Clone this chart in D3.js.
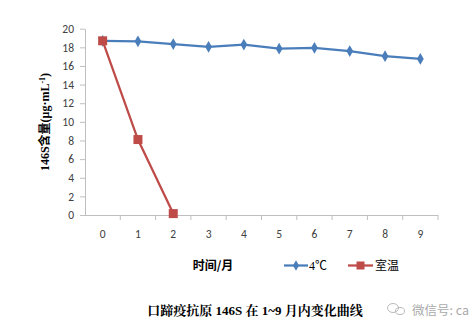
<!DOCTYPE html>
<html>
<head>
<meta charset="utf-8">
<script src="https://cdn.jsdelivr.net/npm/d3@7"></script>
<style>
  html, body { margin: 0; padding: 0; background: #fff; }
  svg { display: block; }
</style>
</head>
<body>
<svg id="chart" width="472" height="325"></svg>
<script>
// Months on the x axis
const months = ["0", "1", "2", "3", "4", "5", "6", "7", "8", "9"];
// 146S content (μg·mL-1) stored at 4℃
const cold = [18.7, 18.65, 18.35, 18.05, 18.3, 17.85, 17.95, 17.6, 17.05, 16.75];
// 146S content (μg·mL-1) at room temperature (measured months 0–2)
const room = [18.7, 8.1, 0.15];
// y tick values
const yTicks = [0, 2, 4, 6, 8, 10, 12, 14, 16, 18, 20];

const svg = d3.select("#chart");
const plotLeft = 85, plotRight = 438, plotTop = 28.7, plotBottom = 215;

const x = d3.scaleBand().domain(months).range([plotLeft, plotRight]).paddingInner(0).paddingOuter(0);
const y = d3.scaleLinear().domain([0, 20]).range([plotBottom, plotTop]);

const axisColor = "#bfbfbf";
const labelFont = "Calibri, Carlito, 'Liberation Sans', 'Open Sans', sans-serif";

// y axis
const yAxis = svg.append("g")
  .attr("transform", `translate(${plotLeft},0)`)
  .call(d3.axisLeft(y).tickValues(yTicks).tickSize(5).tickPadding(6).tickSizeOuter(0));
yAxis.select(".domain").attr("stroke", axisColor);
yAxis.selectAll(".tick line").attr("stroke", axisColor);
yAxis.selectAll(".tick text")
  .attr("fill", "#404040").style("font-size", "11.5px").style("font-family", labelFont);

// x axis: ticks sit on category boundaries
const xAxis = svg.append("g")
  .attr("transform", `translate(0,${plotBottom})`);
xAxis.append("line")
  .attr("x1", plotLeft).attr("x2", plotRight).attr("y1", 0.5).attr("y2", 0.5)
  .attr("stroke", axisColor);
const boundaries = months.map(m => x(m)).concat([x(months[months.length - 1]) + x.bandwidth()]);
xAxis.selectAll("line.tk").data(boundaries.slice(1)).join("line")
  .attr("class", "tk")
  .attr("x1", d => d).attr("x2", d => d).attr("y1", 0).attr("y2", 5)
  .attr("stroke", axisColor);
xAxis.selectAll("text").data(months).join("text")
  .attr("x", d => x(d) + x.bandwidth() / 2)
  .attr("y", 23)
  .attr("text-anchor", "middle")
  .attr("fill", "#404040")
  .style("font-size", "11.5px")
  .style("font-family", labelFont)
  .text(d => d);

const cx = (d, i) => x(months[i]) + x.bandwidth() / 2;

// 4℃ series
const blue = "#4a7ebb";
const line = d3.line().x((d, i) => cx(d, i)).y(d => y(d));
svg.append("path").datum(cold)
  .attr("fill", "none").attr("stroke", blue).attr("stroke-width", 2.25)
  .attr("d", line);
svg.selectAll("path.dia").data(cold).join("path")
  .attr("class", "dia")
  .attr("d", d3.symbol(d3.symbolDiamond, 40))
  .attr("transform", (d, i) => `translate(${cx(d, i)},${y(d)})`)
  .attr("fill", blue);

// room temperature series
const red = "#be4b48";
svg.append("path").datum(room)
  .attr("fill", "none").attr("stroke", red).attr("stroke-width", 2.25)
  .attr("d", line);
svg.selectAll("rect.sq").data(room).join("rect")
  .attr("class", "sq")
  .attr("x", (d, i) => cx(d, i) - 4.5)
  .attr("y", d => y(d) - 4.5)
  .attr("width", 9).attr("height", 9)
  .attr("fill", red);

// y axis title
const yTitle = svg.append("text")
  .attr("transform", "translate(49,122) rotate(-90)")
  .attr("text-anchor", "middle")
  .style("font-family", "'Liberation Serif', 'Noto Sans CJK SC', serif")
  .style("font-weight", "bold")
  .style("font-size", "12px")
  .attr("fill", "#000");
yTitle.append("tspan").text("146S含量(μg·mL");
yTitle.append("tspan").attr("dy", -4).style("font-size", "8px").text("-1");
yTitle.append("tspan").attr("dy", 4).text(")");

// x axis title
svg.append("text")
  .attr("x", 213).attr("y", 270)
  .attr("text-anchor", "middle")
  .style("font-family", "'Noto Sans CJK SC', sans-serif")
  .style("font-weight", "bold")
  .style("font-size", "12px")
  .attr("fill", "#000")
  .text("时间/月");

// legend
const lg = svg.append("g");
lg.append("line").attr("x1", 284).attr("x2", 308).attr("y1", 265.5).attr("y2", 265.5)
  .attr("stroke", blue).attr("stroke-width", 2.25);
lg.append("path").attr("d", d3.symbol(d3.symbolDiamond, 32))
  .attr("transform", "translate(296,265.5)").attr("fill", blue);
lg.append("text").attr("x", 309).attr("y", 270)
  .style("font-family", "'Liberation Serif', 'Noto Sans CJK SC', serif")
  .style("font-size", "12px").attr("fill", "#000").text("4℃");
lg.append("line").attr("x1", 348).attr("x2", 373).attr("y1", 265.5).attr("y2", 265.5)
  .attr("stroke", red).attr("stroke-width", 2.25);
lg.append("rect").attr("x", 356.5).attr("y", 261.5).attr("width", 8).attr("height", 8).attr("fill", red);
lg.append("text").attr("x", 375).attr("y", 270)
  .style("font-family", "'Noto Sans CJK SC', sans-serif")
  .style("font-size", "12px").attr("fill", "#000").text("室温");

// caption
svg.append("text")
  .attr("x", 255).attr("y", 314.5)
  .attr("text-anchor", "middle")
  .style("font-family", "'Liberation Serif', 'Noto Serif CJK SC', 'Noto Sans CJK SC', serif")
  .style("font-weight", "bold")
  .style("font-size", "13px")
  .attr("fill", "#000")
  .text("口蹄疫抗原 146S 在 1~9 月内变化曲线");

// source mark
const wm = svg.append("g").attr("fill", "none").attr("stroke", "#bbb").attr("stroke-width", 1);
wm.append("ellipse").attr("cx", 393).attr("cy", 308).attr("rx", 5.5).attr("ry", 4.5);
wm.append("ellipse").attr("cx", 400).attr("cy", 311).attr("rx", 4.5).attr("ry", 3.5);
svg.append("text")
  .attr("x", 412).attr("y", 315)
  .style("font-family", "'Noto Sans CJK SC', sans-serif")
  .style("font-size", "12.5px")
  .attr("fill", "#aaa")
  .text("微信号: ca");
</script>
</body>
</html>
